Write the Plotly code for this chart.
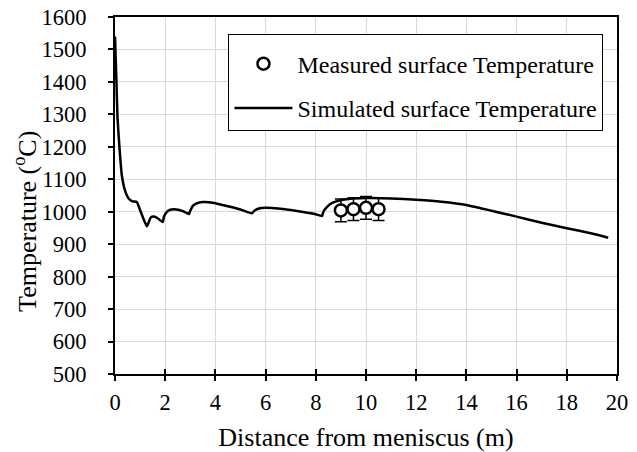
import plotly.graph_objects as go

# Simulated surface temperature
sim_dist = [0, 0.05, 0.1, 0.18, 0.27, 0.4, 0.55, 0.7, 0.87, 1.0, 1.15, 1.27, 1.33, 1.42,
            1.55, 1.7, 1.9, 1.95, 2.05, 2.2, 2.45, 2.7, 2.95, 3.0, 3.1, 3.25, 3.5, 3.9,
            4.5, 5.0, 5.45, 5.55, 5.7, 6.0, 6.5, 7.0, 7.5, 8.0, 8.25, 8.3, 8.45, 8.65,
            8.9, 9.3, 10.0, 11.0, 12.0, 13.0, 14.0, 15.0, 16.0, 17.0, 18.0, 19.0, 19.65]
sim_temp = [1540, 1420, 1290, 1195, 1113, 1065, 1040, 1032, 1030, 1005, 975, 955, 965, 982,
            985, 980, 968, 985, 998, 1006, 1007, 1002, 993, 1003, 1018, 1026, 1030, 1028,
            1017, 1007, 995, 1003, 1009, 1012, 1010, 1005, 999, 992, 987, 1000, 1015, 1027,
            1034, 1039, 1042, 1041, 1037, 1031, 1021, 1003, 985, 966, 949, 933, 920]

# Measured surface temperature
meas_dist = [9.0, 9.5, 10.0, 10.5]
meas_temp = [1004, 1008, 1012, 1008]
meas_err = [35, 35, 35, 35]

x_ticks = [0, 2, 4, 6, 8, 10, 12, 14, 16, 18, 20]
y_ticks = [500, 600, 700, 800, 900, 1000, 1100, 1200, 1300, 1400, 1500, 1600]

FONT = '"Liberation Serif", "Times New Roman", Times, serif'

fig = go.Figure()
fig.add_trace(go.Scatter(
    x=sim_dist, y=sim_temp, mode="lines", name="Simulated surface Temperature",
    line=dict(color="black", width=2.5, shape="spline", smoothing=0.4),
    legendgroup="b", legendrank=2))
fig.add_trace(go.Scatter(
    x=meas_dist, y=meas_temp, mode="markers", name="Measured surface Temperature",
    marker=dict(symbol="circle", size=12, color="white", line=dict(color="black", width=2.5)),
    error_y=dict(type="data", array=meas_err, color="black", thickness=1.5, width=6),
    legendgroup="a", legendrank=1))
# invisible trace for inside ticks on x axis (cross ticks)
fig.add_trace(go.Scatter(x=[0, 20], y=[500, 500], xaxis="x2", mode="lines",
                         line=dict(width=0), showlegend=False, hoverinfo="skip"))

fig.update_layout(
    width=637, height=452,
    margin=dict(l=115, r=20, t=17, b=78, autoexpand=False),
    paper_bgcolor="white", plot_bgcolor="white",
    font=dict(family=FONT, color="black", size=22.5),
    showlegend=True,
    legend=dict(x=0.226, y=0.952, xanchor="left", yanchor="top",
                bgcolor="white", bordercolor="black", borderwidth=1,
                font=dict(family=FONT, size=24, color="black"),
                title=dict(text=" ", font=dict(size=5)),
                tracegroupgap=10, itemwidth=58),
    xaxis=dict(range=[0, 20], tickvals=x_ticks, ticks="outside", ticklen=5, tickwidth=1.5,
               tickcolor="black", showline=True, linecolor="black", linewidth=2, mirror=True,
               showgrid=True, gridcolor="#d9d9d9", gridwidth=1, zeroline=False,
               automargin=False, ticklabelstandoff=2,
               title=dict(text="Distance from meniscus (m)", font=dict(family=FONT, size=26),
                          standoff=14),
               tickfont=dict(family=FONT, size=22.5)),
    xaxis2=dict(range=[0, 20], tickvals=x_ticks, ticks="inside", ticklen=5, tickwidth=1.5,
                tickcolor="black", overlaying="x", showticklabels=False, showgrid=False,
                zeroline=False, side="bottom", anchor="y", automargin=False),
    yaxis=dict(range=[500, 1600], tickvals=y_ticks, ticks="outside", ticklen=5, tickwidth=1.5,
               tickcolor="black", showline=True, linecolor="black", linewidth=2, mirror=True,
               showgrid=True, gridcolor="#d9d9d9", gridwidth=1, zeroline=False,
               automargin=False, ticklabelstandoff=17,
               tickfont=dict(family=FONT, size=22.5)),
    annotations=[dict(text="Temperature (<sup>o</sup>C)", textangle=-90, showarrow=False,
                      xref="paper", yref="paper", x=-0.1775, y=0.4286,
                      xanchor="center", yanchor="middle",
                      font=dict(family=FONT, size=26, color="black"))],
)

fig.write_html("out.html", config={"displayModeBar": False},
               post_script="document.body.style.margin='0';")
